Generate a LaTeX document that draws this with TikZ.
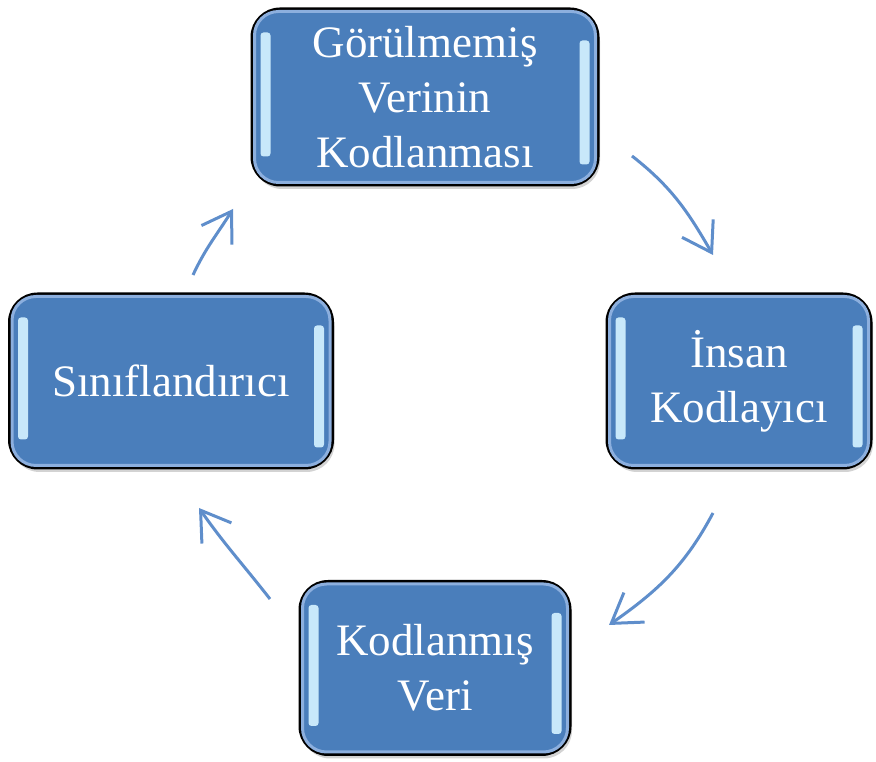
\documentclass[tikz,border=0pt]{standalone}
\usepackage{fontspec}
\setmainfont{Liberation Serif}
\usetikzlibrary{arrows.meta}
\usetikzlibrary{shadows}

\definecolor{boxblue}{RGB}{74,126,187}
\definecolor{rimblue}{RGB}{140,175,222}
\definecolor{barblue}{RGB}{200,232,250}
\definecolor{arrowblue}{RGB}{95,142,203}

\tikzset{
  stagebox/.style={draw=black, line width=3pt, fill=boxblue, rounded corners=28pt,
    text=white, align=center, font=\fontsize{45}{55}\selectfont, inner sep=0pt,
    drop shadow={shadow xshift=2pt, shadow yshift=-4pt, opacity=0.35, fill=gray}},
  rim/.style={draw=rimblue, line width=3pt, rounded corners=24pt},
  bar/.style={fill=barblue, rounded corners=3pt},
  cyclearrow/.style={draw=arrowblue, line width=3pt, -{Straight Barb[length=28pt,width=36pt]}}
}

% inner rim and the two light strips of a box
\newcommand{\boxshine}[1]{%
  \draw[rim] ([shift={(4pt,4pt)}]#1.south west) rectangle ([shift={(-4pt,-4pt)}]#1.north east);
  \fill[bar] ([shift={(10pt,30pt)}]#1.south west) rectangle ([shift={(20pt,-25pt)}]#1.north west);
  \fill[bar] ([shift={(-20pt,22pt)}]#1.south east) rectangle ([shift={(-10pt,-33pt)}]#1.north east);
}

\begin{document}
\begin{tikzpicture}[x=1pt,y=1pt]
\useasboundingbox (0,0) rectangle (876,762);

%boxes
\node[stagebox, minimum width=346pt, minimum height=176pt] (gorulmemis) at (425,665) {Görülmemiş\\Verinin\\Kodlanması};
\node[stagebox, minimum width=264pt, minimum height=174pt] (insan) at (739,381) {İnsan\\Kodlayıcı};
\node[stagebox, minimum width=270pt, minimum height=173pt] (kodlanmis) at (435,94) {Kodlanmış\\Veri};
\node[stagebox, minimum width=323pt, minimum height=174pt] (siniflandirici) at (171,381) {Sınıflandırıcı};

\boxshine{gorulmemis}
\boxshine{insan}
\boxshine{kodlanmis}
\boxshine{siniflandirici}

%arrow ends
\coordinate (a1s) at (632,606);
\coordinate (a1e) at (713,507);
\coordinate (a2s) at (713,249);
\coordinate (a2e) at (609,137);
\coordinate (a3s) at (270,163);
\coordinate (a3e) at (199,254);
\coordinate (a4s) at (193,487);
\coordinate (a4e) at (233,553);

%arrows
\draw[cyclearrow] (a1s) to[out=-38,in=120] (a1e);	%top--right
\draw[cyclearrow] (a2s) to[out=-118,in=35] (a2e);	%right--bottom
\draw[cyclearrow] (a3s) to[out=128,in=-55] (a3e);	%bottom--left
\draw[cyclearrow] (a4s) to[out=65,in=-122] (a4e);	%left--top
\end{tikzpicture}
\end{document}
